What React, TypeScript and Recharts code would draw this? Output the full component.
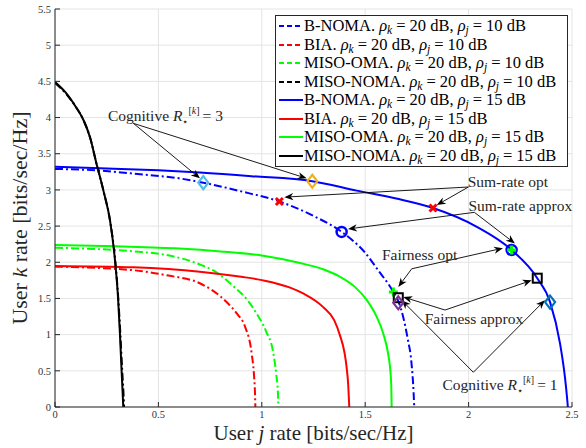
import {
  ComposedChart,
  Line,
  Scatter,
  XAxis,
  YAxis,
  CartesianGrid,
  ReferenceLine,
  ReferenceDot,
  Legend
} from 'recharts'

type Pt = { x: number; y: number }

const SERIF = "'Liberation Serif', 'DejaVu Serif', serif"
const INK = '#262626'

const xTicks = [0, 0.5, 1, 1.5, 2, 2.5]
const yTicks = [0, 0.5, 1, 1.5, 2, 2.5, 3, 3.5, 4, 4.5, 5, 5.5]

// rate regions, rho_j = 10 dB (dash-dot)
const bnoma10: Pt[] = [
  { x: 0, y: 3.29 }, { x: 0.2, y: 3.27 }, { x: 0.4, y: 3.22 }, { x: 0.6, y: 3.16 },
  { x: 0.717, y: 3.1 }, { x: 0.9, y: 2.98 }, { x: 1.085, y: 2.84 }, { x: 1.25, y: 2.64 },
  { x: 1.386, y: 2.42 }, { x: 1.5, y: 2.13 }, { x: 1.56, y: 1.9 }, { x: 1.636, y: 1.59 },
  { x: 1.662, y: 1.45 }, { x: 1.684, y: 1.24 }, { x: 1.705, y: 0.95 }, { x: 1.724, y: 0.6 },
  { x: 1.734, y: 0.2 }, { x: 1.737, y: 0 }
]
const bia10: Pt[] = [
  { x: 0, y: 1.94 }, { x: 0.379, y: 1.89 }, { x: 0.54, y: 1.82 }, { x: 0.7, y: 1.71 },
  { x: 0.83, y: 1.45 }, { x: 0.88, y: 1.29 }, { x: 0.919, y: 1.11 }, { x: 0.951, y: 0.74 },
  { x: 0.962, y: 0.45 }, { x: 0.967, y: 0.2 }, { x: 0.969, y: 0 }
]
const misoOma10: Pt[] = [
  { x: 0, y: 2.2 }, { x: 0.379, y: 2.15 }, { x: 0.54, y: 2.1 }, { x: 0.7, y: 1.97 },
  { x: 0.77, y: 1.88 }, { x: 0.862, y: 1.67 }, { x: 0.93, y: 1.48 }, { x: 0.975, y: 1.29 },
  { x: 1.02, y: 1.05 }, { x: 1.056, y: 0.74 }, { x: 1.07, y: 0.45 }, { x: 1.078, y: 0.2 },
  { x: 1.08, y: 0 }
]
const misoNoma10: Pt[] = [
  { x: 0, y: 4.48 }, { x: 0.05, y: 4.34 }, { x: 0.1, y: 4.15 }, { x: 0.137, y: 3.97 },
  { x: 0.17, y: 3.72 }, { x: 0.2, y: 3.37 }, { x: 0.235, y: 2.98 }, { x: 0.266, y: 2.58 },
  { x: 0.291, y: 2.03 }, { x: 0.306, y: 1.5 }, { x: 0.316, y: 1.01 }, { x: 0.325, y: 0.5 },
  { x: 0.331, y: 0.2 }, { x: 0.334, y: 0 }
]

// rate regions, rho_j = 15 dB (solid)
const bnoma15: Pt[] = [
  { x: 0, y: 3.32 }, { x: 0.218, y: 3.3 }, { x: 0.5, y: 3.27 }, { x: 0.7, y: 3.24 },
  { x: 0.95, y: 3.19 }, { x: 1.244, y: 3.12 }, { x: 1.459, y: 2.99 }, { x: 1.65, y: 2.88 },
  { x: 1.828, y: 2.75 }, { x: 2.04, y: 2.49 }, { x: 2.208, y: 2.17 }, { x: 2.332, y: 1.78 },
  { x: 2.394, y: 1.45 }, { x: 2.442, y: 0.88 }, { x: 2.466, y: 0.41 }, { x: 2.477, y: 0.1 },
  { x: 2.48, y: 0 }
]
const bia15: Pt[] = [
  { x: 0, y: 1.95 }, { x: 0.38, y: 1.93 }, { x: 0.7, y: 1.87 }, { x: 0.9, y: 1.8 },
  { x: 1.007, y: 1.75 }, { x: 1.137, y: 1.65 }, { x: 1.2, y: 1.57 }, { x: 1.297, y: 1.38 },
  { x: 1.35, y: 1.2 }, { x: 1.378, y: 0.99 }, { x: 1.4, y: 0.75 }, { x: 1.41, y: 0.55 },
  { x: 1.418, y: 0.3 }, { x: 1.423, y: 0 }
]
const misoOma15: Pt[] = [
  { x: 0, y: 2.24 }, { x: 0.3, y: 2.22 }, { x: 0.6, y: 2.19 }, { x: 0.8, y: 2.15 },
  { x: 1.007, y: 2.09 }, { x: 1.185, y: 1.99 }, { x: 1.3, y: 1.9 }, { x: 1.378, y: 1.8 },
  { x: 1.45, y: 1.66 }, { x: 1.507, y: 1.48 }, { x: 1.555, y: 1.25 }, { x: 1.588, y: 1.01 },
  { x: 1.61, y: 0.75 }, { x: 1.62, y: 0.55 }, { x: 1.626, y: 0.3 }, { x: 1.628, y: 0 }
]
const misoNoma15: Pt[] = [
  { x: 0, y: 4.49 }, { x: 0.05, y: 4.35 }, { x: 0.1, y: 4.15 }, { x: 0.137, y: 3.97 },
  { x: 0.17, y: 3.72 }, { x: 0.2, y: 3.37 }, { x: 0.235, y: 2.98 }, { x: 0.266, y: 2.58 },
  { x: 0.29, y: 2.03 }, { x: 0.305, y: 1.5 }, { x: 0.314, y: 1.01 }, { x: 0.322, y: 0.5 },
  { x: 0.327, y: 0.2 }, { x: 0.33, y: 0 }
]

const SERIES = [
  { name: 'B-NOMA', rhoJ: 10, color: '#0000ff', dashed: true, data: bnoma10 },
  { name: 'BIA', rhoJ: 10, color: '#ff0000', dashed: true, data: bia10 },
  { name: 'MISO-OMA', rhoJ: 10, color: '#00ff00', dashed: true, data: misoOma10 },
  { name: 'MISO-NOMA', rhoJ: 10, color: '#000000', dashed: true, data: misoNoma10 },
  { name: 'B-NOMA', rhoJ: 15, color: '#0000ff', dashed: false, data: bnoma15 },
  { name: 'BIA', rhoJ: 15, color: '#ff0000', dashed: false, data: bia15 },
  { name: 'MISO-OMA', rhoJ: 15, color: '#00ff00', dashed: false, data: misoOma15 },
  { name: 'MISO-NOMA', rhoJ: 15, color: '#000000', dashed: false, data: misoNoma15 }
]

// operating points
const cog3Low: Pt[] = [{ x: 0.717, y: 3.1 }]
const cog3High: Pt[] = [{ x: 1.244, y: 3.12 }]
const sumRateOpt: Pt[] = [{ x: 1.085, y: 2.84 }, { x: 1.828, y: 2.75 }]
const sumRateApprox: Pt[] = [{ x: 1.386, y: 2.42 }, { x: 2.208, y: 2.17 }]
const fairnessOpt: Pt[] = [{ x: 1.636, y: 1.59 }, { x: 2.208, y: 2.17 }]
const fairnessApprox: Pt[] = [{ x: 1.66, y: 1.51 }, { x: 2.332, y: 1.78 }]
const cog1Low: Pt[] = [{ x: 1.66, y: 1.44 }]
const cog1High: Pt[] = [{ x: 2.394, y: 1.45 }]

// annotation text anchors (centre) and arrows [x1, y1, x2, y2]
const noteText = [
  { key: 'cog3', x: 0.534, y: 4.02, text: 'Cognitive', cog: 3 },
  { key: 'sro', x: 2.19, y: 3.11, text: 'Sum-rate opt' },
  { key: 'sra', x: 2.25, y: 2.78, text: 'Sum-rate approx' },
  { key: 'fo', x: 1.763, y: 2.1, text: 'Fairness opt' },
  { key: 'fa', x: 2.026, y: 1.21, text: 'Fairness approx' },
  { key: 'cog1', x: 2.152, y: 0.3, text: 'Cognitive', cog: 1 }
]
const arrows: [number, number, number, number][] = [
  [0.379, 3.92, 0.701, 3.16],
  [0.379, 3.92, 1.217, 3.16],
  [1.999, 3.04, 1.109, 2.9],
  [1.999, 3.04, 1.846, 2.79],
  [2.028, 2.69, 1.417, 2.46],
  [2.028, 2.69, 2.224, 2.26],
  [1.725, 1.91, 1.66, 1.66],
  [1.725, 1.91, 2.166, 2.195],
  [1.886, 1.34, 1.684, 1.52],
  [1.886, 1.34, 2.305, 1.75],
  [2.023, 0.48, 1.676, 1.476],
  [2.023, 0.48, 2.369, 1.476]
]

const diamond = (color: string) => (p: any) => (
  <polygon
    points={`${p.cx},${p.cy - 6.5} ${p.cx + 5},${p.cy} ${p.cx},${p.cy + 6.5} ${p.cx - 5},${p.cy}`}
    fill="none"
    stroke={color}
    strokeWidth={2.2}
  />
)
const cross = (p: any) => (
  <path
    d={`M${p.cx - 3.5},${p.cy - 3.5}L${p.cx + 3.5},${p.cy + 3.5}M${p.cx - 3.5},${p.cy + 3.5}L${p.cx + 3.5},${p.cy - 3.5}`}
    stroke="#ff0000"
    strokeWidth={3}
  />
)
const ring = (p: any) => <circle cx={p.cx} cy={p.cy} r={5} fill="none" stroke="#0000ff" strokeWidth={2.5} />
const plus = (p: any) => (
  <path
    d={`M${p.cx - 4.5},${p.cy}L${p.cx + 4.5},${p.cy}M${p.cx},${p.cy - 4.5}L${p.cx},${p.cy + 4.5}`}
    stroke="#00ff00"
    strokeWidth={3}
  />
)
const square = (p: any) => (
  <rect x={p.cx - 4.5} y={p.cy - 4.5} width={9} height={9} fill="none" stroke="#000" strokeWidth={2} />
)

function Arrow(p: any) {
  const { x1, y1, x2, y2 } = p
  const a = Math.atan2(y2 - y1, x2 - x1)
  const L = 9
  const W = 3.6
  const bx = x2 - L * Math.cos(a)
  const by = y2 - L * Math.sin(a)
  const nx = x2 - 0.7 * L * Math.cos(a)
  const ny = y2 - 0.7 * L * Math.sin(a)
  const px = -Math.sin(a) * W
  const py = Math.cos(a) * W
  return (
    <g>
      <line x1={x1} y1={y1} x2={nx} y2={ny} stroke="#000" strokeWidth={0.9} />
      <polygon points={`${x2},${y2} ${bx + px},${by + py} ${nx},${ny} ${bx - px},${by - py}`} fill="#000" />
    </g>
  )
}

function NoteText({ cx, cy, text, cog }: any) {
  if (cog == null) {
    return (
      <text x={cx} y={cy + 5} textAnchor="middle" fontFamily={SERIF} fontSize={15.5} fill={INK}>
        {text}
      </text>
    )
  }
  // R with star subscript and [k] superscript, laid out one after another
  return (
    <text x={cx} y={cy + 5} textAnchor="middle" fontFamily={SERIF} fontSize={15.5} fill={INK}>
      <tspan>{text} </tspan>
      <tspan fontStyle="italic">R</tspan>
      <tspan fontSize={10} dy={4}>⋆</tspan>
      <tspan fontSize={10} dy={-11}>[</tspan>
      <tspan fontSize={10} fontStyle="italic">k</tspan>
      <tspan fontSize={10}>]</tspan>
      <tspan dx={3} dy={7}>= {cog}</tspan>
    </text>
  )
}

const subStyle = { fontSize: 11.5, verticalAlign: '-3px', lineHeight: 0, fontStyle: 'italic' as const }
const eqStyle = { padding: '0 4px' }

function LegendBox() {
  return (
    <div
      style={{
        border: `1px solid ${INK}`,
        background: '#fff',
        padding: '1px 0 1px 2px',
        width: 289,
        fontFamily: SERIF,
        fontSize: 16.5,
        color: '#000'
      }}
    >
      {SERIES.map((s, i) => (
        <div
          key={i}
          style={{ display: 'flex', alignItems: 'center', height: 18.5, lineHeight: '18.5px', whiteSpace: 'nowrap' }}
        >
          <svg width={26} height={10} style={{ flex: 'none' }}>
            <line
              x1={1}
              x2={25}
              y1={5}
              y2={5}
              stroke={s.color}
              strokeWidth={2}
              strokeDasharray={s.dashed ? '5 3' : undefined}
            />
          </svg>
          <span>
            {s.name}. <i>ρ</i>
            <sub style={subStyle}>k</sub>
            <span style={eqStyle}>=</span>20 dB, <i>ρ</i>
            <sub style={subStyle}>j</sub>
            <span style={eqStyle}>=</span>
            {s.rhoJ} dB
          </span>
        </div>
      ))}
    </div>
  )
}

const XTitle = (props: any) => {
  const vb = props.viewBox || { x: 55, y: 407, width: 517, height: 41 }
  return (
    <text x={vb.x + vb.width / 2} y={vb.y + 33} textAnchor="middle" fontFamily={SERIF} fontSize={21} fill={INK}>
      User <tspan fontStyle="italic">j</tspan> rate [bits/sec/Hz]
    </text>
  )
}
const YTitle = (props: any) => {
  const vb = props.viewBox || { x: 0, y: 9, width: 55, height: 398 }
  const cx = vb.x + 27
  const cy = vb.y + vb.height / 2 + 10
  return (
    <text
      x={cx}
      y={cy}
      transform={`rotate(-90 ${cx} ${cy})`}
      textAnchor="middle"
      fontFamily={SERIF}
      fontSize={22}
      fill={INK}
    >
      User <tspan fontStyle="italic">k</tspan> rate [bits/sec/Hz]
    </text>
  )
}

const tickStyle = { fontSize: 10.5, fill: '#333', fontFamily: SERIF }

export default function App() {
  return (
    <div style={{ position: 'absolute', left: 0, top: 0, background: '#fff' }}>
      <ComposedChart width={586} height={448} margin={{ top: 9, right: 14, bottom: 0, left: 0 }}>
        <CartesianGrid stroke="#e4e4e4" strokeWidth={1} />
        <XAxis
          dataKey="x"
          type="number"
          domain={[0, 2.5]}
          ticks={xTicks}
          allowDataOverflow
          height={41}
          tick={tickStyle}
          tickSize={-5}
          tickMargin={9}
          axisLine={{ stroke: INK }}
          tickLine={{ stroke: INK }}
          label={<XTitle />}
        />
        <XAxis
          xAxisId="top"
          orientation="top"
          type="number"
          domain={[0, 2.5]}
          ticks={xTicks}
          allowDataOverflow
          height={0}
          tick={false}
          tickSize={-5}
          axisLine={{ stroke: INK }}
          tickLine={{ stroke: INK }}
        />
        <YAxis
          type="number"
          domain={[0, 5.5]}
          ticks={yTicks}
          allowDataOverflow
          width={55}
          tick={tickStyle}
          tickSize={-5}
          tickMargin={9}
          axisLine={{ stroke: INK }}
          tickLine={{ stroke: INK }}
          label={<YTitle />}
        />
        <YAxis
          yAxisId="right"
          orientation="right"
          type="number"
          domain={[0, 5.5]}
          ticks={yTicks}
          allowDataOverflow
          width={0}
          tick={false}
          tickSize={-5}
          axisLine={{ stroke: INK }}
          tickLine={{ stroke: INK }}
        />
        {SERIES.map((s, i) => (
          <Line
            key={i}
            name={`${s.name} ${s.rhoJ}`}
            data={s.data}
            dataKey="y"
            type="monotone"
            stroke={s.color}
            strokeWidth={2}
            strokeDasharray={s.dashed ? '8 3 2 3' : undefined}
            dot={false}
            activeDot={false}
            isAnimationActive={false}
          />
        ))}
        <Scatter data={cog3Low} dataKey="y" shape={diamond('#4dbeee')} legendType="none" isAnimationActive={false} />
        <Scatter data={cog3High} dataKey="y" shape={diamond('#edb120')} legendType="none" isAnimationActive={false} />
        <Scatter data={sumRateOpt} dataKey="y" shape={cross} legendType="none" isAnimationActive={false} />
        <Scatter data={sumRateApprox} dataKey="y" shape={ring} legendType="none" isAnimationActive={false} />
        <Scatter data={fairnessOpt} dataKey="y" shape={plus} legendType="none" isAnimationActive={false} />
        <Scatter data={fairnessApprox} dataKey="y" shape={square} legendType="none" isAnimationActive={false} />
        <Scatter data={cog1Low} dataKey="y" shape={diamond('#7e2f8e')} legendType="none" isAnimationActive={false} />
        <Scatter data={cog1High} dataKey="y" shape={diamond('#0072bd')} legendType="none" isAnimationActive={false} />
        {arrows.map(([x1, y1, x2, y2], i) => (
          <ReferenceLine
            key={`a${i}`}
            segment={[
              { x: x1, y: y1 },
              { x: x2, y: y2 }
            ]}
            ifOverflow="visible"
            shape={(p: any) => <Arrow {...p} />}
          />
        ))}
        {noteText.map((n) => (
          <ReferenceDot
            key={n.key}
            x={n.x}
            y={n.y}
            r={0}
            ifOverflow="visible"
            shape={(p: any) => <NoteText cx={p.cx} cy={p.cy} text={n.text} cog={n.cog} />}
          />
        ))}
        <Legend
          layout="vertical"
          align="center"
          verticalAlign="middle"
          content={() => <LegendBox />}
          wrapperStyle={{ top: 15, left: 275, width: 292, height: 151 }}
        />
      </ComposedChart>
    </div>
  )
}
